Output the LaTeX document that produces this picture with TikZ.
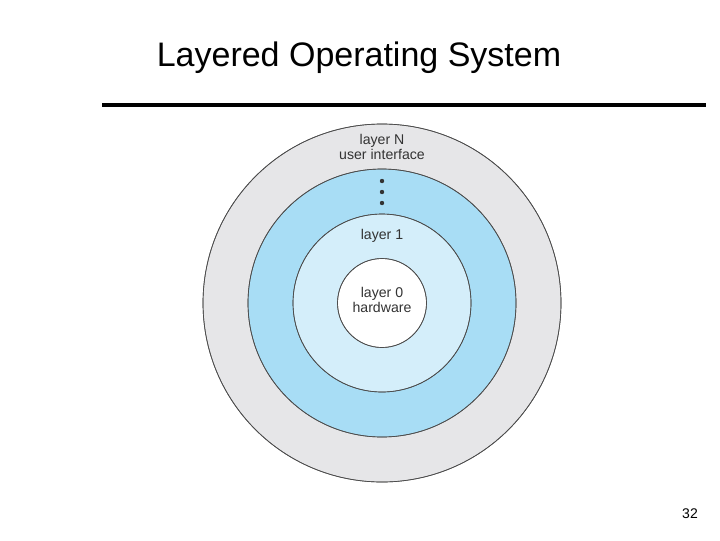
\documentclass[tikz,border=0pt]{standalone}
\usepackage{fontspec}
\setmainfont{Liberation Sans}
\begin{document}
\begin{tikzpicture}[x=0.75pt,y=-0.75pt,
  ring/.style={draw=black!70,line width=0.5pt},
  lbl/.style={font=\fontsize{10.6}{11.5}\selectfont,text=black!80,align=center,inner sep=0pt}]
\useasboundingbox (0,0) rectangle (720,540);
\fill[white] (0,0) rectangle (720,540);
\node[font=\fontsize{25.5}{28}\selectfont,inner sep=0pt] (title) at (359,58) {Layered Operating System};
\coordinate (l1) at (102,105); \coordinate (l2) at (706,105);
\draw[line width=3pt] (l1) -- (l2);
\coordinate (c) at (382,303);
\fill[ring,fill={rgb,255:red,230;green,230;blue,232}] (c) circle[radius=179];
\fill[ring,fill={rgb,255:red,168;green,221;blue,245}] (c) circle[radius=134];
\fill[ring,fill={rgb,255:red,212;green,238;blue,250}] (c) circle[radius=89];
\fill[ring,fill=white] (c) circle[radius=44.5];
\draw[ring] (c) circle[radius=179] (c) circle[radius=134] (c) circle[radius=89] (c) circle[radius=44.5];
\node[lbl] (ln) at (382,147) {layer N\\user interface};
\foreach \yy in {181,192,203} \fill[black!80] (382,\yy) circle[radius=2.2];
\node[lbl] (l1n) at (382,236) {layer 1};
\node[lbl] (l0) at (382,300) {layer 0\\hardware};
\node[font=\fontsize{10.5}{12}\selectfont,inner sep=0pt] (pg) at (690,514) {32};
\end{tikzpicture}
\end{document}
